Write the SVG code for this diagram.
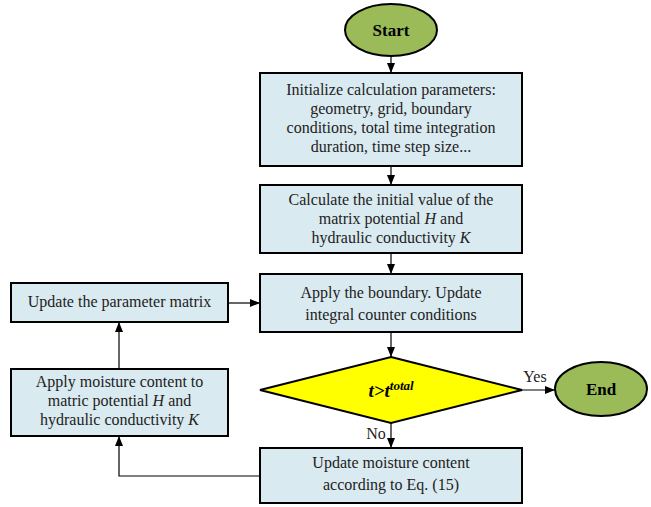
<svg xmlns="http://www.w3.org/2000/svg" width="651" height="507" viewBox="0 0 651 507">
<style>
.box{fill:#DAEAF1;stroke:#000;stroke-width:2}
.term{fill:#9BBB59;stroke:#000;stroke-width:2}
.dec{fill:#FFFF00;stroke:#000;stroke-width:2}
.t{font-family:'Liberation Serif','Times New Roman',serif;font-size:16px;fill:#222;text-anchor:middle}
.b{font-family:'Liberation Serif','Times New Roman',serif;font-size:17px;font-weight:bold;fill:#000;text-anchor:middle}
.c{fill:none;stroke:#000;stroke-width:1.2}
</style>
<defs>
<marker id="ah" markerWidth="10" markerHeight="8" refX="10" refY="4" orient="auto" markerUnits="userSpaceOnUse">
<path d="M0,0 L10,4 L0,8 z" fill="#000"/>
</marker>
</defs>
<rect width="651" height="507" fill="#fff"/>
<g id="connectors">
<line class="c" x1="391" y1="55" x2="391" y2="73" marker-end="url(#ah)"/>
<line class="c" x1="391" y1="166" x2="391" y2="185" marker-end="url(#ah)"/>
<line class="c" x1="391" y1="253" x2="391" y2="274" marker-end="url(#ah)"/>
<line class="c" x1="391" y1="332" x2="391" y2="357" marker-end="url(#ah)"/>
<line class="c" x1="522" y1="390" x2="555" y2="390" marker-end="url(#ah)"/>
<line class="c" x1="391" y1="423" x2="391" y2="448" marker-end="url(#ah)"/>
<polyline class="c" points="260,476 119,476 119,436" marker-end="url(#ah)"/>
<line class="c" x1="119" y1="369" x2="119" y2="322" marker-end="url(#ah)"/>
<line class="c" x1="228" y1="303" x2="260" y2="303" marker-end="url(#ah)"/>
<text class="t" x="535" y="382">Yes</text>
<text class="t" x="376" y="439">No</text>
</g>
<g id="start">
<ellipse class="term" cx="391" cy="30" rx="46" ry="26"/>
<text class="b" x="391" y="36">Start</text>
</g>
<g id="init">
<rect class="box" x="260" y="73" width="262" height="93"/>
<text class="t" x="391" y="95">Initialize calculation parameters:</text>
<text class="t" x="391" y="114">geometry, grid, boundary</text>
<text class="t" x="391" y="133">conditions, total time integration</text>
<text class="t" x="391" y="152">duration, time step size...</text>
</g>
<g id="calc">
<rect class="box" x="260" y="185" width="262" height="68"/>
<text class="t" x="391" y="205">Calculate the initial value of the</text>
<text class="t" x="391" y="224">matrix potential <tspan font-style="italic">H</tspan> and</text>
<text class="t" x="391" y="243">hydraulic conductivity <tspan font-style="italic">K</tspan></text>
</g>
<g id="apply">
<rect class="box" x="260" y="274" width="262" height="58"/>
<text class="t" x="391" y="298">Apply the boundary. Update</text>
<text class="t" x="391" y="320">integral counter conditions</text>
</g>
<g id="decision">
<polygon class="dec" points="391,357 522,390 391,423 260,390"/>
<text x="391" y="397" font-family="'Liberation Serif', serif" font-size="19" font-weight="bold" font-style="italic" text-anchor="middle">t&gt;t<tspan font-size="13" dy="-7">total</tspan></text>
</g>
<g id="end">
<ellipse class="term" cx="601" cy="389" rx="46" ry="27"/>
<text class="b" x="601" y="395">End</text>
</g>
<g id="update-moisture">
<rect class="box" x="260" y="448" width="262" height="55"/>
<text class="t" x="391" y="468">Update moisture content</text>
<text class="t" x="391" y="490">according to Eq. (15)</text>
</g>
<g id="apply-moisture">
<rect class="box" x="11" y="369" width="217" height="67"/>
<text class="t" x="119.5" y="387">Apply moisture content to</text>
<text class="t" x="119.5" y="406">matric potential <tspan font-style="italic">H</tspan> and</text>
<text class="t" x="119.5" y="425">hydraulic conductivity <tspan font-style="italic">K</tspan></text>
</g>
<g id="update-param">
<rect class="box" x="11" y="283" width="217" height="39"/>
<text class="t" x="119.5" y="307">Update the parameter matrix</text>
</g>
</svg>
